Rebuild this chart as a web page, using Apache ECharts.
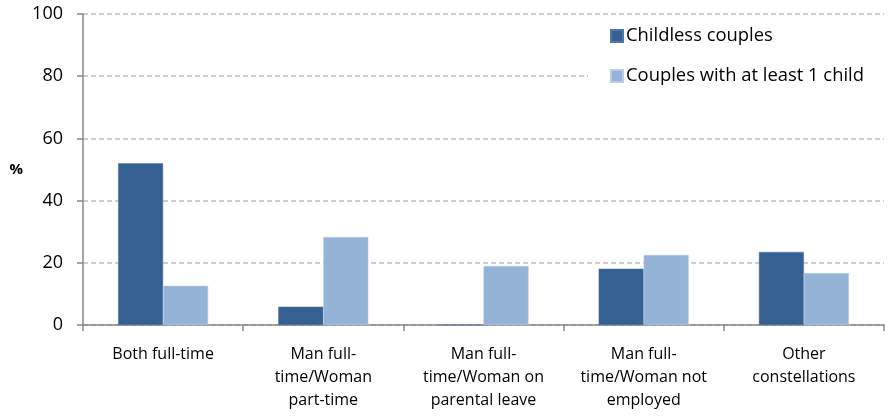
<!DOCTYPE html>
<html>
<head>
<meta charset="utf-8">
<script src="https://cdn.jsdelivr.net/npm/echarts@6/dist/echarts.min.js"></script>
<style>
  html, body { margin: 0; padding: 0; background: #fff; }
  #chart { width: 890px; height: 416px; }
</style>
</head>
<body>
<div id="chart"></div>
<script>
// Household employment constellations, share of couples (%)
const categories = [
  'Both full-time',
  'Man full-\ntime/Woman\npart-time',
  'Man full-\ntime/Woman on\nparental leave',
  'Man full-\ntime/Woman not\nemployed',
  'Other\nconstellations'
];
const seriesNames = ['Childless couples', 'Couples with at least 1 child'];
const childless = [52, 5.9, 0, 18.1, 23.5];
const withChild = [12.6, 28.3, 19.0, 22.5, 16.7];
const yTicks = [0, 20, 40, 60, 80, 100];

const FONT = '"Open Sans", "Noto Sans", sans-serif';
const chart = echarts.init(document.getElementById('chart'), null, { renderer: 'canvas' });

chart.setOption({
  animation: false,
  textStyle: { fontFamily: FONT },
  grid: { left: 83, right: 6, top: 14, bottom: 91, containLabel: false },
  legend: {
    orient: 'vertical',
    left: 588,
    top: 19,
    width: 298,
    padding: [6, 20, 6, 22],
    backgroundColor: '#fff',
    itemWidth: 12,
    itemHeight: 12,
    itemGap: 18,
    icon: 'rect',
    textStyle: { fontFamily: FONT, fontSize: 18.4, lineHeight: 22, color: '#000', padding: [0, 0, 0, -2] },
    data: seriesNames
  },
  xAxis: {
    type: 'category',
    data: categories,
    axisLine: { lineStyle: { color: '#888', width: 1.5 } },
    axisTick: { show: true, length: 6, lineStyle: { color: '#888', width: 1.5 } },
    axisLabel: { color: '#000', fontSize: 16, lineHeight: 23, margin: 18, interval: 0 }
  },
  yAxis: {
    type: 'value',
    min: yTicks[0],
    max: yTicks[yTicks.length - 1],
    interval: 20,
    name: '%',
    nameLocation: 'middle',
    nameRotate: 0,
    nameGap: 60,
    nameTextStyle: { fontWeight: 'bold', fontSize: 15, color: '#000' },
    axisLine: { show: true, lineStyle: { color: '#888', width: 1.5 } },
    axisTick: { show: true, length: 6, lineStyle: { color: '#888', width: 1.5 } },
    axisLabel: { color: '#000', fontSize: 18, margin: 20 },
    splitLine: { lineStyle: { color: '#bdbdbd', type: [5, 3], width: 1.5 } }
  },
  series: [
    {
      name: seriesNames[0],
      type: 'bar',
      data: childless,
      barWidth: 45,
      barGap: '0%',
      itemStyle: { color: '#376092', borderColor: '#4f77a8', borderWidth: 0.5 }
    },
    {
      name: seriesNames[1],
      type: 'bar',
      data: withChild,
      barWidth: 45,
      itemStyle: { color: '#95b3d7', borderColor: '#b9cde6', borderWidth: 0.5 }
    }
  ]
});
</script>
</body>
</html>
